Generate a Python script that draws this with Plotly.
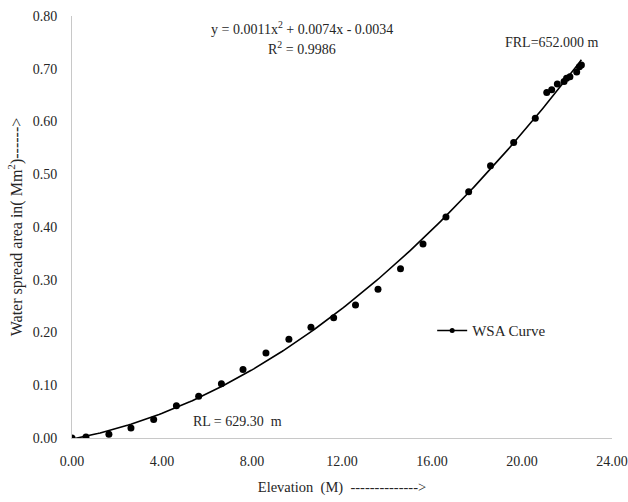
import numpy as np
import plotly.graph_objects as go

# Elevation above RL (m) and water spread area (Mm^2)
elevation = [0.00, 0.62, 1.64, 2.62, 3.63, 4.64, 5.63, 6.64, 7.60, 8.62, 9.64,
             10.62, 11.63, 12.60, 13.60, 14.60, 15.60, 16.62, 17.63, 18.60,
             19.63, 20.59, 21.10, 21.32, 21.57, 21.87, 21.98, 22.13, 22.43,
             22.55, 22.64]
wsa = [0.000, 0.002, 0.007, 0.019, 0.035, 0.061, 0.079, 0.103, 0.130, 0.161,
       0.187, 0.210, 0.228, 0.252, 0.282, 0.321, 0.368, 0.419, 0.467, 0.516,
       0.560, 0.606, 0.655, 0.660, 0.671, 0.676, 0.682, 0.685, 0.694, 0.704,
       0.707]

x_ticks = [0, 4, 8, 12, 16, 20, 24]
x_tick_labels = ["0.00", "4.00", "8.00", "12.00", "16.00", "20.00", "24.00"]
y_ticks = [0.0, 0.1, 0.2, 0.3, 0.4, 0.5, 0.6, 0.7, 0.8]
y_tick_labels = ["0.00", "0.10", "0.20", "0.30", "0.40", "0.50", "0.60", "0.70", "0.80"]

equation_text = "y = 0.0011x<sup>2</sup> + 0.0074x - 0.0034"
r2_text = "R<sup>2</sup> = 0.9986"
frl_text = "FRL=652.000 m"
rl_text = "RL = 629.30\u00a0 m"

# polynomial (order 2) trendline fitted to the data
coef = np.polyfit(elevation, wsa, 2)
trend_x = np.linspace(0, max(elevation), 200)
trend_y = np.polyval(coef, trend_x)

FONT = "Liberation Serif, Times New Roman, serif"
TXT = "#262626"

fig = go.Figure()
fig.add_trace(go.Scatter(x=trend_x, y=trend_y, mode="lines",
                         line=dict(color="black", width=1.6),
                         showlegend=False, hoverinfo="skip"))
fig.add_trace(go.Scatter(x=elevation, y=wsa, mode="markers",
                         marker=dict(color="black", size=7),
                         showlegend=False, name="WSA Curve"))
# legend entry (line + marker symbol)
fig.add_trace(go.Scatter(x=[None], y=[None], mode="lines+markers",
                         line=dict(color="black", width=1.6),
                         marker=dict(color="black", size=5),
                         name="WSA Curve"))

fig.update_layout(
    width=628, height=502,
    margin=dict(l=72, r=16, t=16, b=64, autoexpand=False),
    paper_bgcolor="white", plot_bgcolor="white",
    font=dict(family=FONT, size=14, color=TXT),
    showlegend=True,
    legend=dict(x=0.667, y=0.254, xanchor="left", yanchor="middle",
                bgcolor="rgba(0,0,0,0)", font=dict(size=15, color=TXT),
                itemwidth=30),
    xaxis=dict(range=[0, 24], tickvals=x_ticks, ticktext=x_tick_labels,
               showgrid=False, zeroline=False, showline=True, automargin=False,
               linecolor="#c8c8c8", linewidth=1, ticks="",
               ticklabelstandoff=10,
               title=dict(text="Elevation\u00a0 (M)\u00a0 -------------->",
                          font=dict(size=14.5), standoff=14)),
    yaxis=dict(range=[0, 0.8], tickvals=y_ticks, ticktext=y_tick_labels,
               showgrid=False, zeroline=False, showline=True, automargin=False,
               linecolor="#c8c8c8", linewidth=1, ticks="",
               ticklabelstandoff=11,
               title=dict(text="Water spread area in( Mm<sup>2</sup>)------>",
                          font=dict(size=16), standoff=6)),
    annotations=[
        dict(text=equation_text, xref="paper", yref="paper", x=0.426, y=0.9715,
             showarrow=False, xanchor="center", yanchor="middle",
             font=dict(size=14, color=TXT)),
        dict(text=r2_text, xref="paper", yref="paper", x=0.426, y=0.924,
             showarrow=False, xanchor="center", yanchor="middle",
             font=dict(size=14, color=TXT)),
        dict(text=frl_text, xref="paper", yref="paper", x=0.889, y=0.938,
             showarrow=False, xanchor="center", yanchor="middle",
             font=dict(size=14, color=TXT)),
        dict(text=rl_text, xref="paper", yref="paper", x=0.307, y=0.038,
             showarrow=False, xanchor="center", yanchor="middle",
             font=dict(size=14, color=TXT)),
    ],
)

fig.write_html("out.html",
               config={"displayModeBar": False},
               post_script="document.body.style.margin='0px';document.body.style.overflow='hidden';")
